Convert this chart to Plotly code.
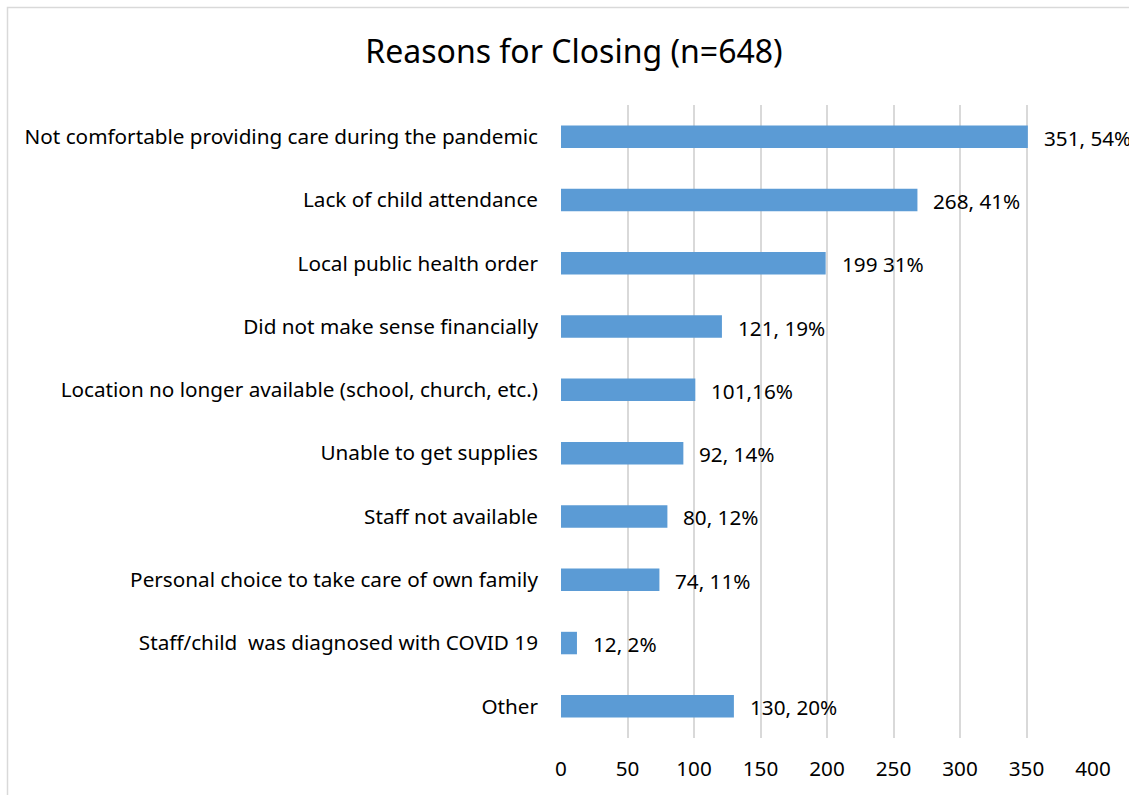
import plotly.graph_objects as go

categories = [
    "Not comfortable providing care during the pandemic",
    "Lack of child attendance",
    "Local public health order",
    "Did not make sense financially",
    "Location no longer available (school, church, etc.)",
    "Unable to get supplies",
    "Staff not available",
    "Personal choice to take care of own family",
    "Staff/child  was diagnosed with COVID 19",
    "Other",
]
values = [351, 268, 199, 121, 101, 92, 80, 74, 12, 130]
data_labels = ["351, 54%", "268, 41%", "199 31%", "121, 19%", "101,16%",
               "92, 14%", "80, 12%", "74, 11%", "12, 2%", "130, 20%"]
x_ticks = [0, 50, 100, 150, 200, 250, 300, 350, 400]

FONT = "Noto Sans"
FS = 20.7

W, H = 1129, 795
L, T, PW, PH = 561, 105, 532, 633

fig = go.Figure()
fig.add_trace(go.Bar(
    x=values, y=categories, orientation="h",
    marker=dict(color="#5B9BD5", line=dict(width=0)),
    width=0.355,
))

for c, v, t in zip(categories, values, data_labels):
    fig.add_annotation(x=v, y=c, text=t, showarrow=False, xanchor="left",
                       xshift=14, yshift=-1,
                       font=dict(family=FONT, size=FS, color="#000000"))

fig.update_layout(
    width=W, height=H,
    margin=dict(l=L, r=W - L - PW, t=T, b=H - T - PH),
    paper_bgcolor="white", plot_bgcolor="white",
    showlegend=False,
    title=dict(text="Reasons for Closing (n=648)", x=574 / W, xanchor="center",
               y=1 - 52 / H, yanchor="middle",
               font=dict(family=FONT, size=32, color="#000000")),
    xaxis=dict(range=[0, 400], tickvals=x_ticks, showgrid=True,
               gridcolor="#D9D9D9", gridwidth=2, zeroline=False,
               showline=False, ticks="", ticklabelstandoff=16,
               tickfont=dict(family=FONT, size=FS, color="#000000")),
    yaxis=dict(autorange="reversed", showgrid=False, zeroline=False,
               showline=False, ticks="", ticklabelstandoff=22,
               tickfont=dict(family=FONT, size=FS, color="#000000")),
    shapes=[dict(type="rect", xref="paper", yref="paper",
                 x0=(7.5 - L) / PW, x1=1.3, y0=-0.3, y1=1 + (T - 7.5) / PH,
                 line=dict(color="#D9D9D9", width=1.5), layer="below")],
)

fig.write_html(
    "out.html",
    config={"displayModeBar": False},
    post_script="document.body.style.margin='0px';document.body.style.overflow='hidden';",
)
